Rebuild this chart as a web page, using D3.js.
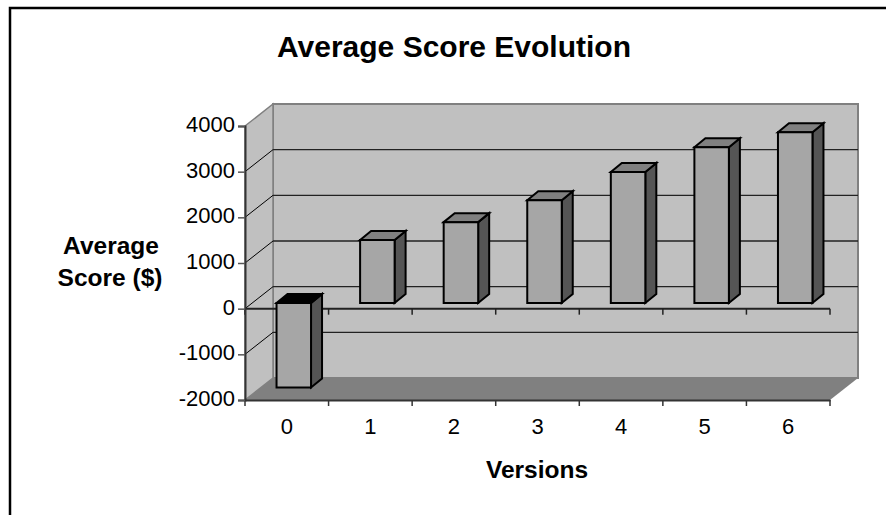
<!DOCTYPE html>
<html lang="en">
  <head>
    <meta charset="utf-8" />
    <title>Average Score Evolution</title>
    <script src="https://d3js.org/d3.v7.js"></script>
    <style>
      body { margin: 0; background: #fff; }
      text { font-family: "Liberation Sans", Arial, sans-serif; fill: #000; }
    </style>
  </head>
  <body>
    <script>

    // chart data
    var versions = ["0", "1", "2", "3", "4", "5", "6"];
    var scores = [-1850, 1380, 1770, 2250, 2870, 3410, 3740];
    var yTicks = [-2000, -1000, 0, 1000, 2000, 3000, 4000];

    var w = 886, h = 515;
    var depth = {x: 28, y: -22};      // floor depth of the 3D box
    var barPos = {x: 7, y: -5.7};     // where the bars stand in the box
    var barDepth = {x: 11, y: -9};

    var svg = d3.select("body").append("svg")
      .attr("width", w)
      .attr("height", h)
      .style("display", "block");

    var x = d3.scaleBand().domain(versions).range([245, 830]);
    var y = d3.scaleLinear().domain([-2000, 4000]).range([400, 126]);
    var barWidth = 34.5;

    function poly(points, fill, stroke, sw) {
      return svg.append("polygon")
        .attr("points", points.map(p => p.join(",")).join(" "))
        .attr("fill", fill)
        .attr("stroke", stroke || "none")
        .attr("stroke-width", sw || 0)
        .attr("stroke-linejoin", "miter");
    }
    function line(x1, y1, x2, y2, stroke, sw) {
      return svg.append("line")
        .attr("x1", x1).attr("y1", y1).attr("x2", x2).attr("y2", y2)
        .attr("stroke", stroke).attr("stroke-width", sw);
    }

    // outer frame, open on the right
    svg.append("path")
      .attr("d", `M886,8H10V515`)
      .attr("fill", "none")
      .attr("stroke", "#000")
      .attr("stroke-width", 2.5);

    var x0 = 245, x1 = 830, yTop = y(4000), yBot = y(-2000);

    // back wall, side wall, floor
    poly([[x0 + depth.x, yTop + depth.y], [x1 + depth.x, yTop + depth.y],
          [x1 + depth.x, yBot + depth.y], [x0 + depth.x, yBot + depth.y]], "#c0c0c0", "#808080", 2);
    poly([[x0, yTop], [x0 + depth.x, yTop + depth.y], [x0 + depth.x, yBot + depth.y], [x0, yBot]], "#c0c0c0", "#808080", 1.5);
    poly([[x0, yBot], [x0 + depth.x, yBot + depth.y], [x1 + depth.x, yBot + depth.y], [x1, yBot]], "#808080");

    // gridlines on side and back wall
    yTicks.slice(1, -1).forEach(function(t) {
      line(x0, y(t), x0 + depth.x, y(t) + depth.y, "#000", 1);
      line(x0 + depth.x, y(t) + depth.y, x1 + depth.x, y(t) + depth.y, "#222", 1.3);
    });

    // zero axis drawn in the box, bars sit over it
    line(x0, y(0), x1, y(0), "#222", 2);
    versions.concat("end").forEach(function(v, i) {
      var tx = x0 + i * x.bandwidth();
      line(tx, y(0), tx, y(0) + 6, "#222", 1.5);
    });

    // bars
    versions.forEach(function(v, i) {
      var cx = x(v) + x.bandwidth() / 2 + barPos.x;
      var l = cx - barWidth / 2, r = cx + barWidth / 2;
      var y0 = y(0) + barPos.y, yv = y(scores[i]) + barPos.y;
      var t = Math.min(y0, yv), b = Math.max(y0, yv);
      var dx = barDepth.x, dy = barDepth.y;
      poly([[r, t], [r + dx, t + dy], [r + dx, b + dy], [r, b]], "#555555", "#000", 2);
      poly([[l, t], [l + dx, t + dy], [r + dx, t + dy], [r, t]], scores[i] < 0 ? "#000" : "#808080", "#000", 2);
      poly([[l, t], [r, t], [r, b], [l, b]], "#a6a6a6", "#000", 2);
    });

    // front axes
    var xAxis = svg.append("g")
      .attr("transform", `translate(0,${yBot})`)
      .call(d3.axisBottom(x).tickSize(0).tickPadding(18));
    xAxis.selectAll("text").attr("font-size", 22).style("font-family", "inherit");
    xAxis.select(".domain").attr("stroke", "#333").attr("stroke-width", 2);
    versions.concat("end").forEach(function(v, i) {
      var tx = x0 + i * x.bandwidth();
      line(tx, yBot, tx, yBot + 6, "#333", 1.5);
    });

    var yAxis = svg.append("g")
      .attr("transform", `translate(${x0},0)`)
      .call(d3.axisLeft(y).tickValues(yTicks).tickSize(7).tickPadding(3).tickFormat(d => String(d)));
    yAxis.selectAll("text").attr("font-size", 22).attr("dy", "0.25em").style("font-family", "inherit");
    yAxis.select(".domain").attr("stroke", "#333").attr("stroke-width", 2);
    yAxis.selectAll("line").attr("stroke", "#555").attr("stroke-width", 1.5);

    // titles
    svg.append("text").attr("x", 454).attr("y", 57).attr("text-anchor", "middle")
      .attr("font-size", 30).attr("font-weight", "bold").text("Average Score Evolution");
    svg.append("text").attr("x", 111).attr("y", 254).attr("text-anchor", "middle")
      .attr("font-size", 24.5).attr("font-weight", "bold").text("Average");
    svg.append("text").attr("x", 110).attr("y", 286).attr("text-anchor", "middle")
      .attr("font-size", 24.5).attr("font-weight", "bold").text("Score ($)");
    svg.append("text").attr("x", 537).attr("y", 478).attr("text-anchor", "middle")
      .attr("font-size", 24.5).attr("font-weight", "bold").text("Versions");

    </script>
  </body>
</html>
